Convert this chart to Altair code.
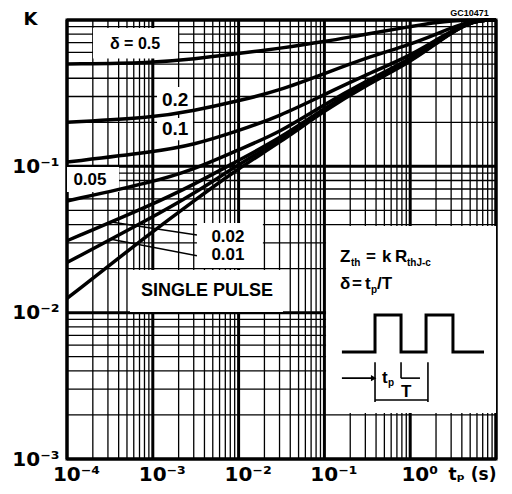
import altair as alt
import pandas as pd

# ---------------- data ----------------
tp = [1e-4, 1e-3, 3e-3, 1e-2, 3e-2, 1e-1, 3e-1, 1, 2, 5, 10]
k_d050 = [0.50, 0.51, 0.54, 0.59, 0.64, 0.71, 0.80, 0.90, 0.97, 1.0, 1.0]
k_d020 = [0.20, 0.215, 0.24, 0.28, 0.33, 0.43, 0.55, 0.68, 0.80, 1.0, 1.0]
k_d010 = [0.107, 0.125, 0.14, 0.175, 0.22, 0.31, 0.42, 0.57, 0.73, 1.0, 1.0]
k_d005 = [0.058, 0.078, 0.095, 0.13, 0.17, 0.265, 0.38, 0.54, 0.71, 1.0, 1.0]
k_d002 = [0.031, 0.055, 0.075, 0.11, 0.155, 0.25, 0.365, 0.53, 0.70, 1.0, 1.0]
k_d001 = [0.022, 0.045, 0.065, 0.103, 0.15, 0.245, 0.36, 0.52, 0.70, 1.0, 1.0]
k_single = [0.0125, 0.036, 0.058, 0.097, 0.145, 0.24, 0.355, 0.515, 0.69, 1.0, 1.0]
series_names = ["0.5", "0.2", "0.1", "0.05", "0.02", "0.01", "single"]
series_values = [k_d050, k_d020, k_d010, k_d005, k_d002, k_d001, k_single]

x_decades = [1e-4, 1e-3, 1e-2, 1e-1, 1, 10]
y_decades = [1e-3, 1e-2, 1e-1, 1]
x_minor = [m * d for d in x_decades[:-1] for m in range(2, 10)]
y_minor = [m * d for d in y_decades[:-1] for m in range(2, 10)]
x_tick_labels = [1e-4, 1e-3, 1e-2, 1e-1, 1]
y_tick_labels = [1e-3, 1e-2, 1e-1]

# white label boxes (tp1, tp2, k1, k2)
box_x1 = [2.01e-4, 1.12e-3, 1.12e-3, 1e-4, 3.27e-3, 5.42e-4, 0.1045]
box_x2 = [1.97e-3, 2.94e-3, 2.94e-3, 4.04e-4, 0.0192, 0.0329, 10]
box_y1 = [0.882, 0.348, 0.214, 0.0989, 0.0410, 0.0196, 0.0391]
box_y2 = [0.545, 0.235, 0.151, 0.0667, 0.0202, 0.0101, 0.00206]

# curve labels
lab_text = ["δ = 0.5", "0.2", "0.1", "0.05", "0.02", "0.01", "SINGLE PULSE", "GC10471"]
lab_x = [6.21e-4, 1.82e-3, 1.82e-3, 1.85e-4, 7.51e-3, 7.51e-3, 4.29e-3, 4.9]
lab_y = [0.685, 0.284, 0.180, 0.0806, 0.0329, 0.0248, 0.01406, 1.12]
lab_size = [16, 19, 19, 17, 17, 17, 18, 9]

# leader lines from the 0.02 / 0.01 curves to their label
lead_x1 = [3.26e-4, 3.26e-4]
lead_x2 = [3.27e-3, 3.27e-3]
lead_y1 = [0.0416, 0.0318]
lead_y2 = [0.0339, 0.0245]

# inset formula pieces
big_text = ["Z", "=", "k", "R", "δ", "=", "t", "/T", "t", "T"]
big_x = [0.152, 0.305, 0.469, 0.665, 0.152, 0.210, 0.297, 0.410, 0.469, 0.782]
big_y = [0.0240, 0.0240, 0.0240, 0.0240, 0.01568, 0.01568, 0.01568, 0.01568, 0.00357, 0.00286]
small_text = ["th", "thJ-c", "p", "p"]
small_x = [0.204, 0.918, 0.349, 0.551]
small_y = [0.0218, 0.0218, 0.0143, 0.0033]

# inset pulse waveform
wave_x = [0.16, 0.389, 0.389, 0.782, 0.782, 1.53, 1.53, 3.15, 3.15, 7.25]
wave_y = [0.00538, 0.00538, 0.00963, 0.00963, 0.00538, 0.00538, 0.00963, 0.00963, 0.00538, 0.00538]
# inset dimension marks
dim_x1 = [0.16, 0.389, 0.782, 0.782, 1.61, 0.389]
dim_x2 = [0.375, 0.389, 0.782, 1.30, 1.61, 1.61]
dim_y1 = [0.00357, 0.00459, 0.00459, 0.00357, 0.00459, 0.00253]
dim_y2 = [0.00357, 0.00245, 0.00357, 0.00357, 0.00245, 0.00253]

# ---------------- chart ----------------
XS = alt.Scale(type="log", domain=[1e-4, 10])
YS = alt.Scale(type="log", domain=[1e-3, 1])
FONT = "Liberation Sans"

x_label_expr = ("datum.value < 0.0005 ? '10⁻⁴' : datum.value < 0.005 ? '10⁻³' : "
                "datum.value < 0.05 ? '10⁻²' : datum.value < 0.5 ? '10⁻¹' : '10⁰'")
y_label_expr = ("datum.value < 0.005 ? '10⁻³' : datum.value < 0.05 ? '10⁻²' : '10⁻¹'")

XA = alt.Axis(
    values=x_tick_labels, labelExpr=x_label_expr, grid=False, ticks=False,
    domain=False, labelFlush=False, labelOverlap=False, labelPadding=5,
    labelOffset=9,
    title="tₚ (s)", titleX=405, titleY=15, titleBaseline="middle", titleAlign="center",
    titleFont="DejaVu Sans", titleFontSize=17, titleFontWeight="bold")
YA = alt.Axis(
    values=y_tick_labels, labelExpr=y_label_expr, grid=False, ticks=False,
    domain=False, labelFlush=False, labelOverlap=False, labelPadding=8,
    title="K", titleAngle=0, titleX=-37, titleY=-1, titleBaseline="middle",
    titleAlign="center", titleFont="DejaVu Sans", titleFontSize=18,
    titleFontWeight="bold")


def X(f):
    return alt.X(f, scale=XS, axis=XA)


def Y(f):
    return alt.Y(f, scale=YS, axis=YA)


curves = pd.DataFrame(
    [{"tp": t, "k": v, "s": n, "o": i}
     for n, vals in zip(series_names, series_values)
     for i, (t, v) in enumerate(zip(tp, vals))]
)

curve_layer = alt.Chart(curves).mark_line(
    color="black", strokeWidth=3.5, interpolate="basis"
).encode(x=X("tp:Q"), y=Y("k:Q"), detail="s:N", order="o:Q")

minor_x = alt.Chart(pd.DataFrame({"v": x_minor})).mark_rule(
    color="black", strokeWidth=1.3).encode(x=X("v:Q"))
minor_y = alt.Chart(pd.DataFrame({"v": y_minor})).mark_rule(
    color="black", strokeWidth=1.3).encode(y=Y("v:Q"))
major_x = alt.Chart(pd.DataFrame({"v": x_decades})).mark_rule(
    color="black", strokeWidth=3).encode(x=X("v:Q"))
major_y = alt.Chart(pd.DataFrame({"v": y_decades})).mark_rule(
    color="black", strokeWidth=3).encode(y=Y("v:Q"))

boxes = alt.Chart(pd.DataFrame(
    {"x1": box_x1, "x2": box_x2, "y1": box_y1, "y2": box_y2})).mark_rect(
    fill="white").encode(x=X("x1:Q"), x2="x2:Q", y=Y("y1:Q"), y2="y2:Q")

leaders = alt.Chart(pd.DataFrame(
    {"x1": lead_x1, "x2": lead_x2, "y1": lead_y1, "y2": lead_y2})).mark_rule(
    color="black", strokeWidth=1.5).encode(x=X("x1:Q"), x2="x2:Q", y=Y("y1:Q"), y2="y2:Q")

labels = alt.Chart(pd.DataFrame(
    {"x": lab_x, "y": lab_y, "t": lab_text, "s": lab_size})).mark_text(
    font=FONT, fontWeight="bold", color="black", align="center", baseline="middle").encode(
    x=X("x:Q"), y=Y("y:Q"), text="t:N", size=alt.Size("s:Q", scale=None, legend=None))

big = alt.Chart(pd.DataFrame({"x": big_x, "y": big_y, "t": big_text})).mark_text(
    font=FONT, fontWeight="bold", fontSize=17, color="black", align="left",
    baseline="middle").encode(x=X("x:Q"), y=Y("y:Q"), text="t:N")
small = alt.Chart(pd.DataFrame({"x": small_x, "y": small_y, "t": small_text})).mark_text(
    font=FONT, fontWeight="bold", fontSize=10, color="black", align="left",
    baseline="middle").encode(x=X("x:Q"), y=Y("y:Q"), text="t:N")

wave = alt.Chart(pd.DataFrame({"x": wave_x, "y": wave_y, "o": list(range(len(wave_x)))})).mark_line(
    color="black", strokeWidth=3).encode(x=X("x:Q"), y=Y("y:Q"), order="o:Q")

dims = alt.Chart(pd.DataFrame(
    {"x1": dim_x1, "x2": dim_x2, "y1": dim_y1, "y2": dim_y2})).mark_rule(
    color="black", strokeWidth=1.6).encode(x=X("x1:Q"), x2="x2:Q", y=Y("y1:Q"), y2="y2:Q")

arrow = alt.Chart(pd.DataFrame({"x": [0.375], "y": [0.00357]})).mark_point(
    shape="triangle-right", filled=True, color="black", size=40, opacity=1).encode(
    x=X("x:Q"), y=Y("y:Q"))

chart = alt.layer(
    minor_x, minor_y, major_x, major_y, boxes, curve_layer, leaders, labels,
    big, small, wave, dims, arrow
).properties(
    width=429, height=439,
    autosize=alt.AutoSizeParams(type="none"),
    padding={"left": 59, "top": 12, "right": 8, "bottom": 27},
).configure_view(
    stroke="black", strokeWidth=3
).configure_axis(
    labelFont="DejaVu Sans", labelFontSize=20, labelFontWeight="bold", labelColor="black",
    titleColor="black"
)

chart.save("out.html", embed_options={"renderer": "svg", "actions": False})
